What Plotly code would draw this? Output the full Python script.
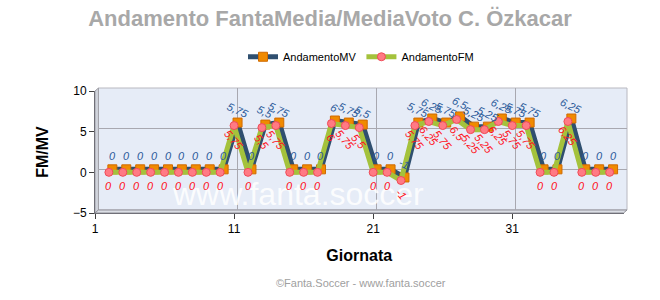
import plotly.graph_objects as go

giornate = list(range(2, 39))
mv = [0, 0, 0, 0, 0, 0, 0, 0, 0, 5.75, 0, 5.5, 5.75, 0, 0, 0, 6, 5.75, 5.5, 0, 0, -1,
      5.75, 6.25, 5.75, 6.5, 5.25, 5.25, 6.25, 5.75, 5.75, 0, 0, 6.25, 0, 0, 0]
fm = [0, 0, 0, 0, 0, 0, 0, 0, 0, 5.75, 0, 5.5, 5.75, 0, 0, 0, 6, 5.75, 5.5, 0, 0, -1,
      5.75, 6.25, 5.75, 6.5, 5.25, 5.25, 6.25, 5.75, 5.75, 0, 0, 6.25, 0, 0, 0]
x_ticks = [1, 11, 21, 31]
y_ticks = [-5, 0, 5, 10]


def fmt(v):
    return ("%g" % v).replace(".", ",")


FONT = "Liberation Sans, Arial, sans-serif"
fig = go.Figure()

# MV series (back plane, shifted up-right for the 3D look) on axes x/y
fig.add_trace(go.Scatter(
    x=giornate, y=mv, name="AndamentoMV", mode="lines+markers",
    line=dict(color="#2f4f6f", width=5),
    marker=dict(symbol="square", size=9, color="#f08a00",
                line=dict(color="#d06a00", width=1)),
    xaxis="x", yaxis="y"))
# FM series (front) on axes x2/y2
fig.add_trace(go.Scatter(
    x=giornate, y=fm, name="AndamentoFM", mode="lines+markers",
    line=dict(color="#a4c23c", width=5),
    marker=dict(symbol="circle", size=8, color="#ff7a84",
                line=dict(color="#f04a58", width=1)),
    xaxis="x2", yaxis="y2"))

annotations = [dict(
    x=0.382, y=-0.01, xref="paper", yref="paper", text="www.fanta.soccer",
    yanchor="bottom",
    showarrow=False, font=dict(family=FONT, size=32, color="rgba(255,255,255,0.85)"))]
for g, v in zip(giornate, mv):
    annotations.append(dict(
        x=g, y=v, xref="x", yref="y", text="<i>" + fmt(v) + "</i>", showarrow=False,
        yshift=13, textangle=25 if v != 0 else 0,
        font=dict(family=FONT, size=11, color="#2a5a9a"),
    ))
for g, v in zip(giornate, fm):
    annotations.append(dict(
        x=g, y=v, xref="x2", yref="y2", text="<i>" + fmt(v) + "</i>", showarrow=False,
        yshift=-14, textangle=50 if v != 0 else 0,
        font=dict(family=FONT, size=11, color="#ff1020"),
    ))
annotations.append(dict(
    x=0.5, y=-0.62, xref="paper", yref="paper", text="©Fanta.Soccer - www.fanta.soccer",
    showarrow=False, font=dict(family=FONT, size=11, color="#a0a0a0")))

DX, DY = 0.0065, 0.024
shapes = [
    # back plane
    dict(type="rect", xref="paper", yref="paper", x0=DX, x1=1, y0=DY, y1=1,
         line=dict(color="#b8b8c0", width=1), fillcolor="#e6ecf7", layer="below"),
    # left wall
    dict(type="path", xref="paper", yref="paper",
         path=f"M 0 0 L {DX} {DY} L {DX} 1 L 0 {1 - DY} Z",
         line=dict(color="#a0a0a8", width=1), fillcolor="#d0d4dc", layer="below"),
    # floor
    dict(type="path", xref="paper", yref="paper",
         path=f"M 0 0 L {1 - DX} 0 L 1 {DY} L {DX} {DY} Z",
         line=dict(color="#909098", width=1), fillcolor="#dcdfe6", layer="below"),
]

fig.update_layout(
    width=660, height=300,
    margin=dict(l=95, r=33, t=88, b=87),
    paper_bgcolor="white",
    plot_bgcolor="rgba(0,0,0,0)",
    title=dict(text="<b>Andamento FantaMedia/MediaVoto C. Özkacar</b>",
               x=0.5, xanchor="center", y=0.94, yanchor="middle",
               font=dict(family=FONT, size=22, color="#a8a8a8")),
    showlegend=True,
    legend=dict(orientation="h", x=0.5, xanchor="center", y=1.25, yanchor="middle",
                font=dict(family=FONT, size=11, color="black"),
                bgcolor="rgba(0,0,0,0)"),
    xaxis=dict(domain=[DX, 1.0], range=[1, 39], anchor="y", tickvals=x_ticks,
               showticklabels=False, ticks="", showline=False,
               showgrid=True, gridcolor="#a8a8b0", gridwidth=1, zeroline=False),
    yaxis=dict(domain=[DY, 1.0], range=[-5, 10], anchor="x", tickvals=y_ticks,
               showticklabels=False, ticks="", showline=False,
               showgrid=True, gridcolor="#a8a8b0", gridwidth=1, zeroline=False),
    xaxis2=dict(domain=[0, 1 - DX], range=[1, 39], tickvals=x_ticks, anchor="y2",
                showgrid=False,
                ticks="outside", ticklen=5, tickcolor="#404040",
                tickfont=dict(family=FONT, size=12, color="black"),
                title=dict(text="<b>Giornata</b>", standoff=14,
                           font=dict(family=FONT, size=16, color="black")),
                showline=True, linecolor="#707078", linewidth=1, zeroline=False),
    yaxis2=dict(domain=[0, 1 - DY], range=[-5, 10], tickvals=y_ticks, anchor="x2",
                showgrid=False,
                ticks="outside", ticklen=5, tickcolor="#404040",
                tickfont=dict(family=FONT, size=12, color="black"),
                title=dict(text="<b>FM/MV</b>", standoff=20,
                           font=dict(family=FONT, size=16, color="black")),
                showline=True, linecolor="#707078", linewidth=1, zeroline=False),
    annotations=annotations,
    shapes=shapes,
)

fig.write_html("out.html")
